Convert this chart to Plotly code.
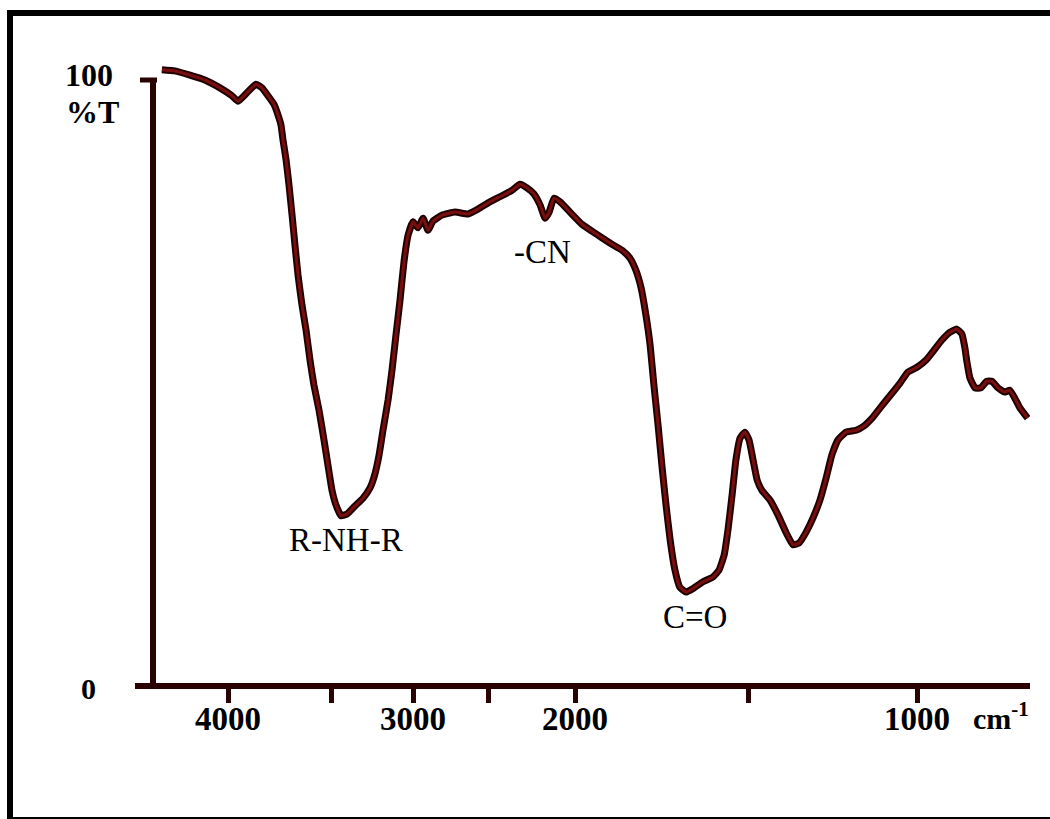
import numpy as np
import plotly.graph_objects as go

# IR spectrum: wavenumber (cm-1) and transmittance (%T)
wavenumber = [4320, 4257, 4184, 4112, 4039, 3981, 3951, 3908, 3864, 3835,
              3806, 3777, 3757, 3743, 3733, 3718, 3704, 3689, 3675, 3660,
              3641, 3621, 3602, 3583, 3558, 3534, 3515, 3494, 3470, 3439,
              3402, 3354, 3305, 3262, 3232, 3207, 3183, 3152, 3128, 3104,
              3079, 3055, 3030, 3000, 2967, 2933, 2900, 2867, 2807, 2720,
              2633, 2567, 2489, 2420, 2362, 2316, 2276, 2236, 2201, 2172,
              2150, 2121, 2086, 2029, 1980, 1939, 1899, 1864, 1841, 1824,
              1809, 1795, 1783, 1772, 1760, 1749, 1737, 1725, 1711, 1697,
              1679, 1656, 1630, 1601, 1584, 1569, 1558, 1546, 1535, 1523,
              1509, 1497, 1485, 1473, 1459, 1435, 1411, 1388, 1367, 1349,
              1328, 1308, 1287, 1269, 1252, 1234, 1210, 1180, 1157, 1133,
              1109, 1080, 1050, 1027, 1000, 973, 950, 926, 902, 882,
              867, 858, 852, 843, 828, 811, 793, 778, 760, 740,
              725, 710, 695, 683, 672]
transmittance = [101.7, 101.5, 100.8, 100.0, 98.7, 97.4, 96.5, 97.9, 99.3, 98.7,
                 97.4, 96.0, 94.2, 92.6, 90.1, 86.8, 82.7, 77.7, 72.8, 67.8,
                 62.9, 58.7, 53.8, 49.7, 45.5, 40.6, 36.5, 32.3, 29.9, 28.1,
                 28.4, 29.7, 31.0, 32.7, 35.0, 38.1, 42.2, 47.2, 52.1, 57.9,
                 63.7, 70.0, 74.4, 76.6, 75.6, 77.2, 75.2, 76.7, 77.7, 78.2,
                 77.9, 78.7, 79.9, 80.9, 81.8, 82.8, 82.2, 81.2, 79.4, 77.2,
                 78.1, 80.5, 79.9, 78.2, 76.2, 74.6, 73.1, 71.9, 70.6, 68.6,
                 65.7, 61.2, 56.3, 49.7, 43.1, 36.5, 29.9, 24.1, 19.1, 16.3,
                 15.5, 16.2, 17.2, 18.0, 19.1, 21.6, 25.7, 31.5, 37.3, 40.9,
                 41.9, 40.6, 37.3, 34.0, 32.3, 30.7, 28.2, 25.4, 23.3, 23.6,
                 25.4, 27.7, 30.7, 34.3, 38.1, 40.6, 41.9, 42.2, 42.9, 44.2,
                 45.9, 47.9, 50.0, 51.8, 52.6, 53.8, 55.4, 57.1, 58.4, 58.9,
                 58.1, 55.8, 53.5, 50.8, 49.2, 49.2, 50.3, 50.3, 49.2, 48.5,
                 48.8, 47.5, 45.9, 45.0, 44.2]

# band labels: text, wavenumber, %T
band_text = ["R-NH-R", "-CN", "C=O"]
band_wn = [3409, 2184, 1653]
band_t = [24.1, 71.6, 11.4]

# x axis ticks
tick_wn = [4000, 3500, 3000, 2500, 2000, 1500, 1000]
tick_text = ["4000", "", "3000", "", "2000", "", "1000"]

# piecewise wavenumber scale of the chart paper (expanded below 2000 cm-1)
scale_wn = np.array([4450, 4000, 3500, 3000, 2500, 2000, 1500, 1000, 665])
scale_pos = np.array([-93, 0, 103, 185, 260, 347, 520, 689, 802])


def pos(wn):
    return np.interp(-np.asarray(wn, dtype=float), -scale_wn, scale_pos)


X_RANGE = [scale_pos[0], scale_pos[-1]]
Y_RANGE = [-12.2, 106.6]

SERIF = "Liberation Serif, Times New Roman, serif"
DARK = "#2a0202"
LINE_CORE = "#7a0e0e"

W, H = 1050, 819
M = dict(l=135, r=20, t=40, b=59)


def paper_x(px):
    return (px - M["l"]) / (W - M["l"] - M["r"])


def paper_y(py):
    return (H - M["b"] - py) / (H - M["t"] - M["b"])


fig = go.Figure()
xs = pos(wavenumber)
fig.add_trace(go.Scatter(x=xs, y=transmittance, mode="lines",
                         line=dict(color="#1e0000", width=7, shape="spline", smoothing=0.4),
                         hoverinfo="skip"))
fig.add_trace(go.Scatter(x=xs, y=transmittance, mode="lines",
                         line=dict(color=LINE_CORE, width=3, shape="spline", smoothing=0.4),
                         hoverinfo="skip"))

shapes = []
# vertical %T axis with the 100 % stub
y_axis_pos = X_RANGE[0] + 18
shapes.append(dict(type="line", xref="x", yref="y", x0=y_axis_pos, x1=y_axis_pos,
                   y0=0, y1=100, line=dict(color=DARK, width=6)))
shapes.append(dict(type="line", xref="x", yref="y", x0=y_axis_pos - 13, x1=y_axis_pos + 4,
                   y0=100, y1=100, line=dict(color=DARK, width=5)))
# page frame
shapes.append(dict(type="rect", xref="paper", yref="paper",
                   x0=paper_x(7), x1=paper_x(1050), y0=paper_y(819), y1=paper_y(10),
                   fillcolor="rgba(0,0,0,0)", line=dict(width=0), layer="below"))
shapes.append(dict(type="rect", xref="paper", yref="paper",
                   x0=paper_x(7), x1=paper_x(13), y0=paper_y(819), y1=paper_y(10),
                   fillcolor="black", line=dict(width=0)))
shapes.append(dict(type="rect", xref="paper", yref="paper",
                   x0=paper_x(7), x1=paper_x(1050), y0=paper_y(16), y1=paper_y(10),
                   fillcolor="black", line=dict(width=0)))
shapes.append(dict(type="rect", xref="paper", yref="paper",
                   x0=paper_x(7), x1=paper_x(1050), y0=paper_y(819), y1=paper_y(817),
                   fillcolor="black", line=dict(width=0)))


def label(x, y, text, size, xref="paper", yref="paper"):
    return dict(x=x, y=y, xref=xref, yref=yref, text=text, showarrow=False,
                xanchor="center", yanchor="middle",
                font=dict(family=SERIF, size=size, color="black"))


annotations = []
for t, w, v in zip(band_text, band_wn, band_t):
    annotations.append(label(float(pos(w)), v, t, 33, "x", "y"))
# wavenumber tick labels under the axis
for t, w in zip(tick_text, tick_wn):
    if t:
        annotations.append(label(float(pos(w)), -5.4, f"<b>{t}</b>", 33, "x", "y"))
annotations += [
    label(paper_x(89), paper_y(75), "<b>100</b>", 32),
    label(paper_x(92), paper_y(112), "<b>%T</b>", 32),
    label(paper_x(88), paper_y(688), "<b>0</b>", 30),
    label(paper_x(1001), paper_y(716), "<b>cm<sup>-1</sup></b>", 30),
]

fig.update_layout(
    width=W, height=H, margin=M,
    paper_bgcolor="white", plot_bgcolor="white", showlegend=False,
    shapes=shapes, annotations=annotations,
    xaxis=dict(range=X_RANGE, showgrid=False, zeroline=False,
               showline=True, linecolor=DARK, linewidth=6,
               anchor="free", position=(0 - Y_RANGE[0]) / (Y_RANGE[1] - Y_RANGE[0]),
               tickmode="array", tickvals=pos(tick_wn), showticklabels=False,
               ticks="outside", ticklen=14, tickwidth=5, tickcolor=DARK),
    yaxis=dict(range=Y_RANGE, visible=False),
)

fig.write_html("out.html")
